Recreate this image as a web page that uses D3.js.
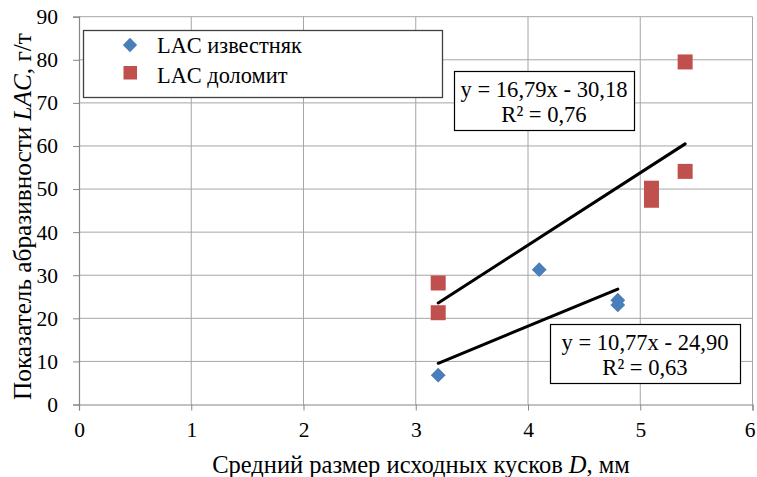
<!DOCTYPE html>
<html><head><meta charset="utf-8">
<script src="https://cdn.jsdelivr.net/npm/d3@7"></script>
<style>body{margin:0;background:#fff}svg{display:block}</style>
</head><body>
<script>
const xTicks = [0,1,2,3,4,5,6];
const yTicks = [0,10,20,30,40,50,60,70,80,90];
const limeX = [3.2, 4.1, 4.8, 4.8];
const limeY = [6.8, 31.3, 24.2, 23.1];
const dolX = [3.2, 3.2, 5.1, 5.1, 5.4, 5.4];
const dolY = [28.2, 21.3, 50.2, 47.4, 79.5, 54.1];
const seriesNames = ["LAC известняк", "LAC доломит"];
const limeFit = {slope: 10.77, intercept: -24.90, label: ["y = 10,77x - 24,90", "R² = 0,63"]};
const dolFit = {slope: 16.79, intercept: -30.18, label: ["y = 16,79x - 30,18", "R² = 0,76"]};
const xTitle = "Средний размер исходных кусков ";
const yTitle = "Показатель абразивности ";

const W = 757, H = 477;
const svg = d3.select("body").append("svg").attr("width", W).attr("height", H);
const font = "Liberation Serif, Times New Roman, serif";
const x = d3.scaleLinear().domain([0, 6]).range([79, 752.5]);
const y = d3.scaleLinear().domain([0, 90]).range([404.5, 16.7]);
const blue = "#4a7ebb", red = "#c0504d";

function fit(sel, target) {
  const w = sel.node().getComputedTextLength();
  const fs = parseFloat(sel.attr("font-size"));
  sel.attr("font-size", (fs * target / w).toFixed(2));
}

// grid
svg.append("g").selectAll("line").data(yTicks.slice(1)).join("line")
  .attr("x1", x(0)).attr("x2", x(6)).attr("y1", d => y(d)).attr("y2", d => y(d))
  .attr("stroke", "#a6a6a6").attr("stroke-width", 1);
svg.append("g").selectAll("line").data(xTicks.slice(1)).join("line")
  .attr("y1", y(0)).attr("y2", y(90)).attr("x1", d => x(d)).attr("x2", d => x(d))
  .attr("stroke", "#a6a6a6").attr("stroke-width", 1);

// axes
const xa = svg.append("g").attr("transform", `translate(0,${y(0)})`)
  .call(d3.axisBottom(x).tickValues(xTicks).tickSize(6).tickPadding(0).tickFormat(d3.format("d")));
const ya = svg.append("g").attr("transform", `translate(${x(0)},0)`)
  .call(d3.axisLeft(y).tickValues(yTicks).tickSize(6).tickPadding(15).tickFormat(d3.format("d")));
[xa, ya].forEach(a => {
  a.selectAll("path").attr("stroke", "#868686").attr("stroke-width", 1.2);
  a.selectAll("line").attr("stroke", "#868686");
  a.selectAll("text").attr("font-family", font).attr("font-size", 21.5).attr("fill", "#000");
});
xa.selectAll("text").attr("dy", null).attr("y", 32.5);
xa.selectAll(".tick").filter(d => d === 6).select("text").attr("text-anchor", "end").attr("x", 2.5);

// trendlines
function fitLine(xs, f) {
  const x0 = d3.min(xs), x1 = d3.max(xs);
  svg.append("line").attr("x1", x(x0)).attr("x2", x(x1))
    .attr("y1", y(f.slope * x0 + f.intercept)).attr("y2", y(f.slope * x1 + f.intercept))
    .attr("stroke", "#000").attr("stroke-width", 3).attr("stroke-linecap", "round");
}
fitLine(limeX, limeFit);
fitLine(dolX, dolFit);

// points
const diamond = d3.symbol().type(d3.symbolDiamond2).size(140);
svg.append("g").selectAll("path").data(limeX.map((v, i) => [v, limeY[i]])).join("path")
  .attr("d", diamond).attr("transform", d => `translate(${x(d[0])},${y(d[1])})`)
  .attr("fill", blue);
const sq = 15;
svg.append("g").selectAll("rect").data(dolX.map((v, i) => [v, dolY[i]])).join("rect")
  .attr("x", d => x(d[0]) - sq / 2).attr("y", d => y(d[1]) - sq / 2)
  .attr("width", sq).attr("height", sq).attr("fill", red);

// legend
const lg = svg.append("g");
lg.append("rect").attr("x", 83.5).attr("y", 30.5).attr("width", 359).attr("height", 67)
  .attr("fill", "#fff").attr("stroke", "#404040").attr("stroke-width", 1.3);
lg.append("path").attr("d", d3.symbol().type(d3.symbolDiamond2).size(130))
  .attr("transform", "translate(130,45)").attr("fill", blue);
lg.append("rect").attr("x", 123.5).attr("y", 66).attr("width", 13.5).attr("height", 13.5).attr("fill", red);
const lt = lg.selectAll("text").data(seriesNames).join("text")
  .attr("x", 157).attr("y", (d, i) => 53 + i * 30).text(d => d)
  .attr("font-family", font).attr("font-size", 20).attr("fill", "#000");
fit(d3.select(lt.nodes()[0]), 145);
lt.attr("font-size", d3.select(lt.nodes()[0]).attr("font-size"));

// equation boxes
function eqBox(bx, by, bw, bh, lines) {
  const g = svg.append("g");
  g.append("rect").attr("x", bx + 0.5).attr("y", by + 0.5).attr("width", bw).attr("height", bh)
    .attr("fill", "#fff").attr("stroke", "#000").attr("stroke-width", 1.2);
  const t = g.selectAll("text").data(lines).join("text")
    .attr("x", bx + bw / 2).attr("y", (d, i) => by + 26 + i * 24.5)
    .attr("text-anchor", "middle").text(d => d)
    .attr("font-family", font).attr("font-size", 20).attr("fill", "#000");
  fit(d3.select(t.nodes()[0]), 167);
  t.attr("font-size", d3.select(t.nodes()[0]).attr("font-size"));
}
eqBox(454, 71, 180, 59, dolFit.label);
eqBox(550, 324, 190, 59, limeFit.label);

// axis titles
const xt = svg.append("text").attr("x", 421).attr("y", 473).attr("text-anchor", "middle")
  .attr("font-family", font).attr("font-size", 22).attr("fill", "#000");
xt.append("tspan").text(xTitle);
xt.append("tspan").attr("font-style", "italic").text("D");
xt.append("tspan").text(", мм");
fit(xt, 418);

const yt = svg.append("text").attr("transform", "translate(31,216.5) rotate(-90)").attr("text-anchor", "middle")
  .attr("font-family", font).attr("font-size", 22).attr("fill", "#000");
yt.append("tspan").text(yTitle);
yt.append("tspan").attr("font-style", "italic").text("LAC");
yt.append("tspan").text(", г/т");
fit(yt, 367);
</script>
</body></html>
